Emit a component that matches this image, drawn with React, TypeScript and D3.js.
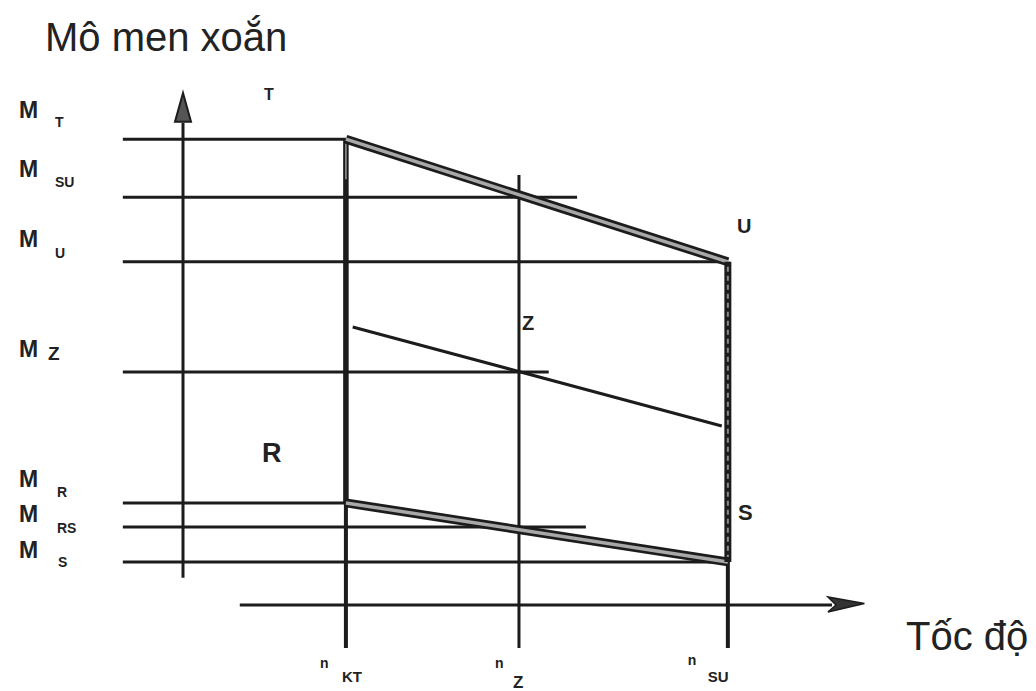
import React from "react";
import * as d3 from "d3";

// ---- data (arbitrary units) ----
const torqueNames = ["T", "SU", "U", "Z", "R", "RS", "S"];
const torqueValues = [90.8, 79.5, 66.9, 45.4, 19.9, 15.2, 8.4];
// how far to the right each torque level line reaches (speed units)
const torqueLineEnds = [24.1, 58.3, 80.6, 54.1, 24.8, 59.6, 80.6];

const speedNames = ["KT", "Z", "SU"];
const speedValues = [24.1, 49.7, 80.6];
// where each speed line starts at the top (torque units)
const speedLineTops = [90.8, 83.8, 66.9];

// upper boundary T -> U, lower boundary R -> S
const upperSpeed = [24.1, 80.6];
const upperTorque = [90.8, 66.9];
const lowerSpeed = [24.1, 80.6];
const lowerTorque = [19.9, 8.4];
// intermediate characteristic Z
const zSpeed = [25.1, 79.7];
const zTorque = [54.2, 34.9];

const W = 1036;
const H = 691;

const x = d3.scaleLinear().domain([0, 100]).range([183, 859]);
const y = d3.scaleLinear().domain([0, 100]).range([605, 92]);

const line = d3
  .line<[number, number]>()
  .x((d) => x(d[0]))
  .y((d) => y(d[1]));

const INK = "#1c1c1c";
const FONT = "'Liberation Sans', Arial, sans-serif";

// label layout (pixel offsets)
const mLabelDy = [-21, -20, -15, -15, -16, -5, -4];
const subDy = [-12, -10, -4, -12, -6, 6, 5];
const subX = [55, 55, 55, 48, 57, 57, 58];
const nDx = [-26, -24, -40];
const nSubDx = [-4, -6, -20];
const nBase = [668, 668, 665];
const nSubBase = [682, 688, 682];

export default function App() {
  const xLeft = -8.9;
  const tickBottom = -8.4;
  return (
    <svg
      width={W}
      height={H}
      viewBox={`0 0 ${W} ${H}`}
      style={{ position: "absolute", left: 0, top: 0, background: "#fff" }}
    >
      <rect x={0} y={0} width={W} height={H} fill="#fff" />

      {/* titles */}
      <text x={45} y={51} fontFamily={FONT} fontSize={40} fill="#222">
        Mô men xoắn
      </text>
      <text x={906} y={650} fontFamily={FONT} fontSize={40} fill="#222">
        Tốc độ
      </text>

      {/* Y axis with arrow */}
      <line
        x1={x(0)}
        x2={x(0)}
        y1={y(94)}
        y2={y(5.3)}
        stroke={INK}
        strokeWidth={3}
      />
      <path
        d={`M${x(0)},${y(99.8)} L${x(0) - 8},${y(94.2)} L${x(0) + 8},${y(94.2)} Z`}
        fill="#555"
        stroke={INK}
        strokeWidth={2}
      />

      {/* X axis with arrow */}
      <line
        x1={x(8.4)}
        x2={x(96)}
        y1={y(0)}
        y2={y(0)}
        stroke={INK}
        strokeWidth={3}
      />
      <path
        d={`M${x(100.8)},${y(0.3)} L${x(95.4)},${y(0) - 8} L${x(96.6)},${y(0)} L${x(95.4)},${y(0) + 7} Z`}
        fill="#333"
        stroke={INK}
        strokeWidth={1.5}
      />

      {/* torque level lines */}
      {torqueValues.map((v, i) => (
        <line
          key={"h" + i}
          x1={x(xLeft)}
          x2={x(torqueLineEnds[i])}
          y1={y(v)}
          y2={y(v)}
          stroke={INK}
          strokeWidth={3}
        />
      ))}

      {/* speed lines */}
      {speedValues.map((v, i) => (
        <line
          key={"v" + i}
          x1={x(v)}
          x2={x(v)}
          y1={y(speedLineTops[i])}
          y2={y(tickBottom)}
          stroke={INK}
          strokeWidth={i === 1 ? 3 : 4}
        />
      ))}
      {/* thicker n_KT boundary */}
      <line
        x1={x(speedValues[0])}
        x2={x(speedValues[0])}
        y1={y(upperTorque[0])}
        y2={y(lowerTorque[0])}
        stroke={INK}
        strokeWidth={5.5}
      />
      <line
        x1={x(speedValues[0])}
        x2={x(speedValues[0])}
        y1={y(upperTorque[0]) + 4}
        y2={y(upperTorque[0]) + 40}
        stroke="#999"
        strokeWidth={1.5}
      />

      {/* Z characteristic */}
      <path
        d={line(zSpeed.map((s, i) => [s, zTorque[i]]) as [number, number][]) || ""}
        stroke={INK}
        strokeWidth={3}
        fill="none"
      />

      {/* double boundary lines */}
      {[
        [upperSpeed, upperTorque],
        [lowerSpeed, lowerTorque],
      ].map(([s, t], k) => {
        const d =
          line(s.map((sv, i) => [sv, t[i]]) as [number, number][]) || "";
        return (
          <g key={"b" + k}>
            <path d={d} stroke={INK} strokeWidth={9} fill="none" />
            <path d={d} stroke="#a8a8a8" strokeWidth={3.5} fill="none" />
          </g>
        );
      })}
      {/* right boundary U -> S */}
      <line
        x1={x(speedValues[2])}
        x2={x(speedValues[2])}
        y1={y(upperTorque[1])}
        y2={y(lowerTorque[1])}
        stroke={INK}
        strokeWidth={7}
      />
      <line
        x1={x(speedValues[2])}
        x2={x(speedValues[2])}
        y1={y(upperTorque[1]) + 5}
        y2={y(lowerTorque[1]) - 5}
        stroke="#8a8a8a"
        strokeWidth={2}
        strokeDasharray="5 4"
      />

      {/* left torque labels */}
      {torqueNames.map((n, i) => (
        <g key={"ml" + i} fontFamily={FONT} fontWeight="bold" fill="#222">
          <text x={19} y={y(torqueValues[i]) + mLabelDy[i]} fontSize={23}>
            M
          </text>
          <text
            x={subX[i]}
            y={y(torqueValues[i]) + subDy[i]}
            fontSize={n === "Z" ? 19 : 14}
          >
            {n}
          </text>
        </g>
      ))}

      {/* bottom speed labels */}
      {speedNames.map((n, i) => (
        <g key={"nl" + i} fontFamily={FONT} fontWeight="bold" fill="#222">
          <text x={x(speedValues[i]) + nDx[i]} y={nBase[i]} fontSize={14}>
            n
          </text>
          <text
            x={x(speedValues[i]) + nSubDx[i]}
            y={nSubBase[i]}
            fontSize={n === "Z" ? 17 : 15}
          >
            {n}
          </text>
        </g>
      ))}

      {/* corner letters */}
      <g fontFamily={FONT} fontWeight="bold" fill="#222">
        <text x={264} y={100} fontSize={16}>
          T
        </text>
        <text x={737} y={233} fontSize={20}>
          U
        </text>
        <text x={522} y={330} fontSize={20}>
          Z
        </text>
        <text x={262} y={462} fontSize={27}>
          R
        </text>
        <text x={738} y={520} fontSize={22}>
          S
        </text>
      </g>
    </svg>
  );
}
